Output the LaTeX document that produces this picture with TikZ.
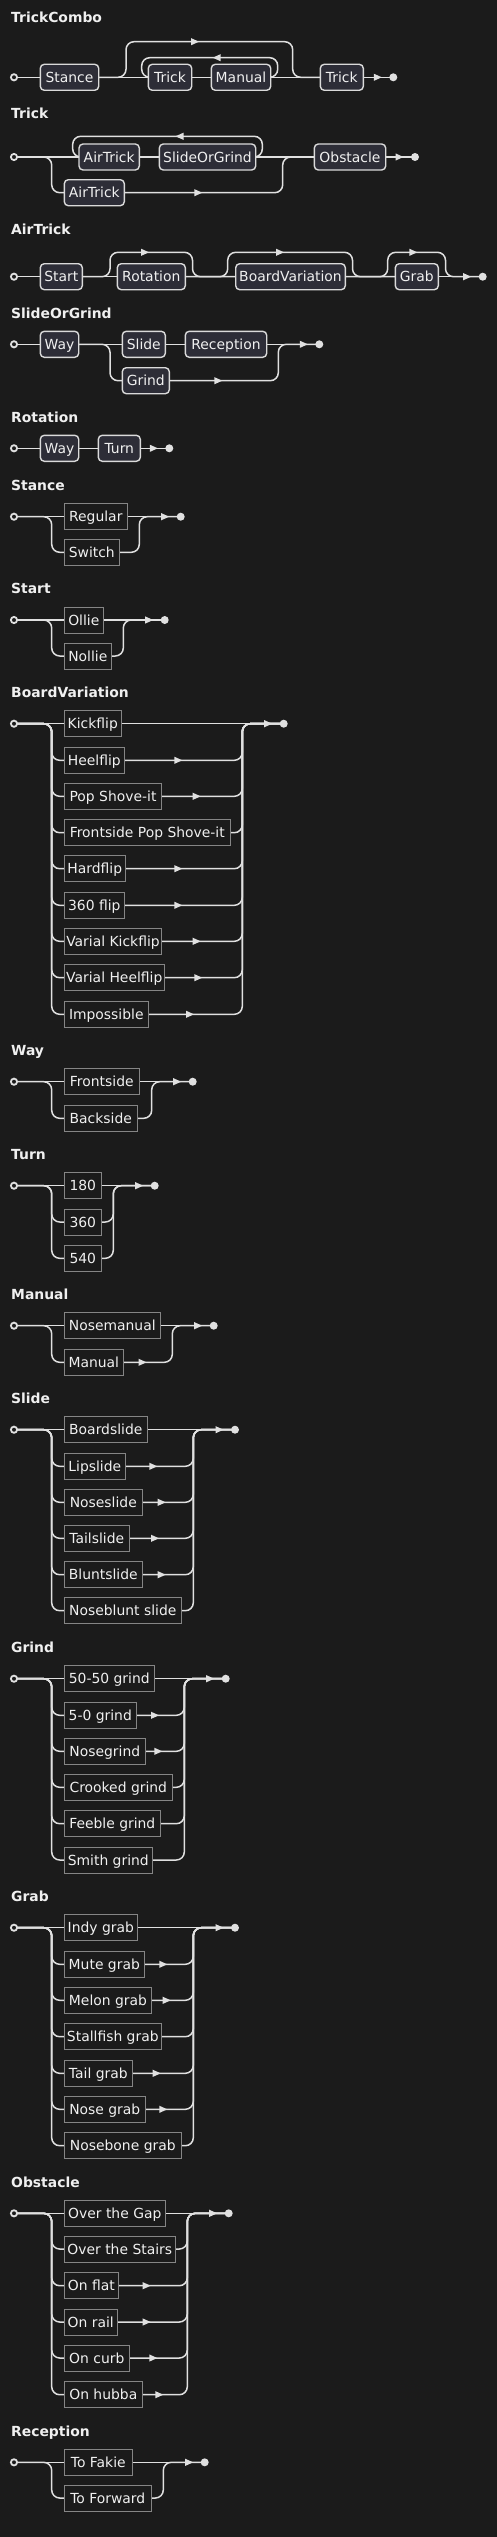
\documentclass[tikz,border=0pt]{standalone}
\usepackage{fontspec}
\setmainfont{DejaVu Sans}
\usetikzlibrary{calc}
\definecolor{bgc}{HTML}{1B1B1B}
\definecolor{linec}{HTML}{E0E0E0}
\definecolor{ntfill}{HTML}{2D2D37}
\definecolor{ntdraw}{HTML}{DADADA}
\definecolor{tdraw}{HTML}{858585}
\definecolor{txtc}{HTML}{F0F0F0}
\pgfdeclarelayer{backlayer}
\pgfdeclarelayer{linelayer}
\pgfsetlayers{backlayer,linelayer,main}
\newcommand\NT[5]{\node[ntbox, minimum width={#3pt-#2pt}] (#1) at ({(#2+#3)/2},#4) {#5};}
\newcommand\TM[5]{\node[tbox, minimum width={#3pt-#2pt}] (#1) at ({(#2+#3)/2},#4) {#5};}
\newcommand\branch[6]{\draw[rr] (#1.center) -- (51.7,#4) -- (51.7,#5) -- (#2.center) -- (#6,#5) -- (#6,#4) -- (#3.center);}
\tikzset{
 x=1pt, y=-1pt,
 rr/.style={draw=linec, line width=1.5pt, rounded corners=8pt},
 boxfont/.style={font=\fontsize{13.9}{16}\selectfont, text height=10.1pt, text depth=0pt},
 ntbox/.style={boxfont, draw=ntdraw, fill=ntfill, line width=1.4pt, rounded corners=4pt, minimum height=26pt, inner xsep=2pt, inner ysep=0pt, text=txtc},
 tbox/.style={boxfont, draw=tdraw, fill=bgc, line width=1pt, minimum height=26pt, inner xsep=2pt, inner ysep=0pt, text=txtc},
 ttl/.style={anchor=base west, inner sep=0pt, text=txtc, font=\bfseries\fontsize{13.9}{16}\selectfont},
 startc/.style={circle, draw=linec, fill=bgc, line width=1.8pt, minimum size=6.2pt, inner sep=0pt},
 endc/.style={circle, fill=linec, minimum size=8pt, inner sep=0pt},
 arr/.pic={\fill[linec] (-4,-3.6) -- (4,0) -- (-4,3.6) -- cycle;},
}
\begin{document}
\begin{tikzpicture}
\useasboundingbox (0,0) rectangle (497,2537);
\begin{pgfonlayer}{backlayer}
\fill[bgc] (0,0) rectangle (497,2537);
\end{pgfonlayer}

% ---------- TrickCombo
\node[ttl] (t1) at (11,22.7) {TrickCombo};
\node[startc] (s1) at (14,77.3) {};
\NT{a1}{40.3}{98.7}{77.3}{Stance}
\NT{b1}{148.3}{191.7}{77.3}{Trick}
\NT{c1}{211.3}{270.7}{77.3}{Manual}
\NT{d1}{320.3}{363.3}{77.3}{Trick}
\node[endc] (e1) at (393.3,77.3) {};
\begin{pgfonlayer}{linelayer}
\draw[rr] (s1.center) -- (e1.center);
\draw[rr] (a1.center) -- (126,77.3) -- (126,41.7) -- (292.7,41.7) -- (292.7,77.3) -- (d1.center);
\draw[rr] (c1.center) -- (277.7,77.3) -- (277.7,57.7) -- (141.7,57.7) -- (141.7,77.3) -- (b1.center);
\end{pgfonlayer}
\pic at (195,41.7) {arr};
\pic[rotate=180] at (216.7,57.7) {arr};
\pic at (377.8,77.3) {arr};

% ---------- Trick
\node[ttl] (t2) at (11,118.7) {Trick};
\node[startc] (s2) at (14,157) {};
\NT{a2}{79}{139.3}{157}{AirTrick}
\NT{b2}{159.3}{255.7}{157}{SlideOrGrind}
\NT{c2}{64.3}{124.3}{192.7}{AirTrick}
\NT{d2}{314.3}{385.7}{157}{Obstacle}
\node[endc] (e2) at (415,157) {};
\begin{pgfonlayer}{linelayer}
\draw[rr] (s2.center) -- (e2.center);
\draw[rr] (b2.center) -- (262.3,157) -- (262.3,136.3) -- (72.7,136.3) -- (72.7,157) -- (a2.center);
\draw[rr] (s2.center) -- (51.7,157) -- (51.7,192.7) -- (c2.center) -- (282.7,192.7) -- (282.7,157) -- (d2.center);
\end{pgfonlayer}
\pic[rotate=180] at (179.5,136.3) {arr};
\pic at (198.3,192.7) {arr};
\pic at (399.5,157) {arr};

% ---------- AirTrick
\node[ttl] (t3) at (11,234.3) {AirTrick};
\node[startc] (s3) at (14,276.7) {};
\NT{a3}{40.3}{82.3}{276.7}{Start}
\NT{b3}{117.3}{185.3}{276.7}{Rotation}
\NT{c3}{235.7}{345.3}{276.7}{BoardVariation}
\NT{d3}{395.3}{438.3}{276.7}{Grab}
\node[endc] (e3) at (482.7,276.7) {};
\begin{pgfonlayer}{linelayer}
\draw[rr] (s3.center) -- (e3.center);
\draw[rr] (a3.center) -- (110,276.7) -- (110,252.3) -- (192.5,252.3) -- (192.5,276.7) -- (c3.center);
\draw[rr] (b3.center) -- (227.7,276.7) -- (227.7,252.3) -- (352.5,252.3) -- (352.5,276.7) -- (d3.center);
\draw[rr] (c3.center) -- (387.7,276.7) -- (387.7,252.3) -- (445.5,252.3) -- (445.5,276.7) -- (e3.center);
\end{pgfonlayer}
\pic at (145,252.3) {arr};
\pic at (280,252.3) {arr};
\pic at (413.3,252.3) {arr};
\pic at (467.2,276.7) {arr};

% ---------- SlideOrGrind
\node[ttl] (t4) at (11,318.3) {SlideOrGrind};
\node[startc] (s4) at (14,344.3) {};
\NT{a4}{40.3}{78.7}{344.3}{Way}
\NT{b4}{122.3}{165.3}{344.3}{Slide}
\NT{c4}{185.3}{266.7}{344.3}{Reception}
\NT{d4}{122.3}{169.3}{380.7}{Grind}
\node[endc] (e4) at (319.3,344.3) {};
\begin{pgfonlayer}{linelayer}
\draw[rr] (s4.center) -- (e4.center);
\draw[rr] (a4.center) -- (110,344.3) -- (110,380.7) -- (d4.center) -- (278.3,380.7) -- (278.3,344.3) -- (e4.center);
\end{pgfonlayer}
\pic at (218.3,380.7) {arr};
\pic at (303.8,344.3) {arr};

% ---------- Rotation
\node[ttl] (t5) at (11,422.5) {Rotation};
\node[startc] (s5) at (14,448.3) {};
\NT{a5}{40.3}{78.7}{448.3}{Way}
\NT{b5}{98.3}{140.3}{448.3}{Turn}
\node[endc] (e5) at (169.3,448.3) {};
\begin{pgfonlayer}{linelayer}
\draw[rr] (s5.center) -- (e5.center);
\end{pgfonlayer}
\pic at (153.8,448.3) {arr};

% ---------- Stance
\node[ttl] (t6) at (11,490.7) {Stance};
\node[startc] (s6) at (14,516.7) {};
\TM{a6}{64.3}{127.3}{516.7}{Regular}
\TM{b6}{64.3}{119.3}{552.3}{Switch}
\node[endc] (e6) at (180.7,516.7) {};
\begin{pgfonlayer}{linelayer}
\draw[rr] (s6.center) -- (e6.center);
\branch{s6}{b6}{e6}{516.7}{552.3}{139.3}
\end{pgfonlayer}
\pic at (165.2,516.7) {arr};

% ---------- Start
\node[ttl] (t7) at (11,593.3) {Start};
\node[startc] (s7) at (14,620) {};
\TM{a7}{64.3}{103.3}{620}{Ollie}
\TM{b7}{64.3}{111.3}{656}{Nollie}
\node[endc] (e7) at (164.7,620) {};
\begin{pgfonlayer}{linelayer}
\draw[rr] (s7.center) -- (e7.center);
\branch{s7}{b7}{e7}{620}{656}{123.3}
\end{pgfonlayer}
\pic at (149.2,620) {arr};

% ---------- BoardVariation
\node[ttl] (t8) at (11,697.3) {BoardVariation};
\node[startc] (s8) at (14,723.7) {};
\TM{a8}{64.3}{121.3}{723.7}{Kickflip}
\TM{b8}{64.3}{124.3}{760.3}{Heelflip}
\TM{c8}{64.3}{161.7}{796.3}{Pop Shove-it}
\TM{d8}{64.3}{230.3}{832.7}{Frontside Pop Shove-it}
\TM{f8}{64.3}{125.3}{868.7}{Hardflip}
\TM{g8}{64.3}{124.3}{905.3}{360 flip}
\TM{h8}{64.3}{161.7}{941.3}{Varial Kickflip}
\TM{i8}{64.3}{164.3}{977.7}{Varial Heelflip}
\TM{k8}{64.3}{148.3}{1014.3}{Impossible}
\node[endc] (e8) at (283.7,723.7) {};
\begin{pgfonlayer}{linelayer}
\draw[rr] (s8.center) -- (e8.center);
\branch{s8}{b8}{e8}{723.7}{760.3}{242.3}
\branch{s8}{c8}{e8}{723.7}{796.3}{242.3}
\branch{s8}{d8}{e8}{723.7}{832.7}{242.3}
\branch{s8}{f8}{e8}{723.7}{868.7}{242.3}
\branch{s8}{g8}{e8}{723.7}{905.3}{242.3}
\branch{s8}{h8}{e8}{723.7}{941.3}{242.3}
\branch{s8}{i8}{e8}{723.7}{977.7}{242.3}
\branch{s8}{k8}{e8}{723.7}{1014.3}{242.3}
\end{pgfonlayer}
\pic at (178.3,760.3) {arr};
\pic at (196.7,796.3) {arr};
\pic at (178.3,868.7) {arr};
\pic at (178.3,905.3) {arr};
\pic at (196.7,941.3) {arr};
\pic at (198.3,977.7) {arr};
\pic at (190,1014.3) {arr};
\pic at (268.2,723.7) {arr};

% ---------- Way
\node[ttl] (t9) at (11,1055.7) {Way};
\node[startc] (s9) at (14,1081.7) {};
\TM{a9}{64.3}{139.3}{1081.7}{Frontside}
\TM{b9}{64.3}{137.3}{1118.3}{Backside}
\node[endc] (e9) at (192.7,1081.7) {};
\begin{pgfonlayer}{linelayer}
\draw[rr] (s9.center) -- (e9.center);
\branch{s9}{b9}{e9}{1081.7}{1118.3}{151.7}
\end{pgfonlayer}
\pic at (177.2,1081.7) {arr};

% ---------- Turn
\node[ttl] (t10) at (11,1159) {Turn};
\node[startc] (s10) at (14,1185.7) {};
\TM{a10}{64.3}{101.3}{1185.7}{180}
\TM{b10}{64.3}{101.3}{1222}{360}
\TM{c10}{64.3}{101.3}{1258.3}{540}
\node[endc] (e10) at (154.7,1185.7) {};
\begin{pgfonlayer}{linelayer}
\draw[rr] (s10.center) -- (e10.center);
\branch{s10}{b10}{e10}{1185.7}{1222}{113.3}
\branch{s10}{c10}{e10}{1185.7}{1258.3}{113.3}
\end{pgfonlayer}
\pic at (139.2,1185.7) {arr};

% ---------- Manual
\node[ttl] (t11) at (11,1299.3) {Manual};
\node[startc] (s11) at (14,1325.7) {};
\TM{a11}{64.3}{160.3}{1325.7}{Nosemanual}
\TM{b11}{64.3}{123.3}{1362.3}{Manual}
\node[endc] (e11) at (213.7,1325.7) {};
\begin{pgfonlayer}{linelayer}
\draw[rr] (s11.center) -- (e11.center);
\branch{s11}{b11}{e11}{1325.7}{1362.3}{172.3}
\end{pgfonlayer}
\pic at (142.5,1362.3) {arr};
\pic at (198.2,1325.7) {arr};

% ---------- Slide
\node[ttl] (t12) at (11,1403.3) {Slide};
\node[startc] (s12) at (14,1429.7) {};
\TM{a12}{64.3}{147.3}{1429.7}{Boardslide}
\TM{b12}{64.3}{125.3}{1466.3}{Lipslide}
\TM{c12}{64.3}{142.3}{1502.3}{Noseslide}
\TM{d12}{64.3}{129.3}{1538.3}{Tailslide}
\TM{f12}{64.3}{142.3}{1574.7}{Bluntslide}
\TM{g12}{64.3}{181.3}{1610.7}{Noseblunt slide}
\node[endc] (e12) at (235,1429.7) {};
\begin{pgfonlayer}{linelayer}
\draw[rr] (s12.center) -- (e12.center);
\branch{s12}{b12}{e12}{1429.7}{1466.3}{193.3}
\branch{s12}{c12}{e12}{1429.7}{1502.3}{193.3}
\branch{s12}{d12}{e12}{1429.7}{1538.3}{193.3}
\branch{s12}{f12}{e12}{1429.7}{1574.7}{193.3}
\branch{s12}{g12}{e12}{1429.7}{1610.7}{193.3}
\end{pgfonlayer}
\pic at (153.3,1466.3) {arr};
\pic at (161.7,1502.3) {arr};
\pic at (155,1538.3) {arr};
\pic at (161.7,1574.7) {arr};
\pic at (219.5,1429.7) {arr};

% ---------- Grind
\node[ttl] (t13) at (11,1652.3) {Grind};
\node[startc] (s13) at (14,1678.7) {};
\TM{a13}{64.3}{154.3}{1678.7}{50-50 grind}
\TM{b13}{64.3}{136.3}{1715.3}{5-0 grind}
\TM{c13}{64.3}{145.3}{1751.3}{Nosegrind}
\TM{d13}{64.3}{172.3}{1787.3}{Crooked grind}
\TM{f13}{64.3}{160.3}{1823.7}{Feeble grind}
\TM{g13}{64.3}{152.3}{1860}{Smith grind}
\node[endc] (e13) at (225.7,1678.7) {};
\begin{pgfonlayer}{linelayer}
\draw[rr] (s13.center) -- (e13.center);
\branch{s13}{b13}{e13}{1678.7}{1715.3}{184.3}
\branch{s13}{c13}{e13}{1678.7}{1751.3}{184.3}
\branch{s13}{d13}{e13}{1678.7}{1787.3}{184.3}
\branch{s13}{f13}{e13}{1678.7}{1823.7}{184.3}
\branch{s13}{g13}{e13}{1678.7}{1860}{184.3}
\end{pgfonlayer}
\pic at (155,1715.3) {arr};
\pic at (158.3,1751.3) {arr};
\pic at (210.2,1678.7) {arr};

% ---------- Grab
\node[ttl] (t14) at (11,1901.7) {Grab};
\node[startc] (s14) at (14,1927.7) {};
\TM{a14}{64.3}{137.3}{1927.7}{Indy grab}
\TM{b14}{64.3}{144.3}{1964.3}{Mute grab}
\TM{c14}{64.3}{151.7}{2000.3}{Melon grab}
\TM{d14}{64.3}{161.3}{2036.7}{Stallfish grab}
\TM{f14}{64.3}{132.3}{2073.3}{Tail grab}
\TM{g14}{64.3}{145.3}{2109.3}{Nose grab}
\TM{h14}{64.3}{181.3}{2145.7}{Nosebone grab}
\node[endc] (e14) at (235,1927.7) {};
\begin{pgfonlayer}{linelayer}
\draw[rr] (s14.center) -- (e14.center);
\branch{s14}{b14}{e14}{1927.7}{1964.3}{193.3}
\branch{s14}{c14}{e14}{1927.7}{2000.3}{193.3}
\branch{s14}{d14}{e14}{1927.7}{2036.7}{193.3}
\branch{s14}{f14}{e14}{1927.7}{2073.3}{193.3}
\branch{s14}{g14}{e14}{1927.7}{2109.3}{193.3}
\branch{s14}{h14}{e14}{1927.7}{2145.7}{193.3}
\end{pgfonlayer}
\pic at (163.3,1964.3) {arr};
\pic at (166.7,2000.3) {arr};
\pic at (156.7,2073.3) {arr};
\pic at (163.3,2109.3) {arr};
\pic at (219.5,1927.7) {arr};

% ---------- Obstacle
\node[ttl] (t15) at (11,2187.3) {Obstacle};
\node[startc] (s15) at (14,2213.3) {};
\TM{a15}{64.3}{165.3}{2213.3}{Over the Gap}
\TM{b15}{64.3}{175.3}{2249}{Over the Stairs}
\TM{c15}{64.3}{118.3}{2285.7}{On flat}
\TM{d15}{64.3}{117.3}{2322}{On rail}
\TM{f15}{64.3}{129.3}{2358}{On curb}
\TM{g15}{64.3}{142.3}{2394.7}{On hubba}
\node[endc] (e15) at (228.7,2213.3) {};
\begin{pgfonlayer}{linelayer}
\draw[rr] (s15.center) -- (e15.center);
\branch{s15}{b15}{e15}{2213.3}{2249}{187.3}
\branch{s15}{c15}{e15}{2213.3}{2285.7}{187.3}
\branch{s15}{d15}{e15}{2213.3}{2322}{187.3}
\branch{s15}{f15}{e15}{2213.3}{2358}{187.3}
\branch{s15}{g15}{e15}{2213.3}{2394.7}{187.3}
\end{pgfonlayer}
\pic at (146.7,2285.7) {arr};
\pic at (146.7,2322) {arr};
\pic at (153.3,2358) {arr};
\pic at (159.3,2394.7) {arr};
\pic at (213.2,2213.3) {arr};

% ---------- Reception
\node[ttl] (t16) at (11,2436.7) {Reception};
\node[startc] (s16) at (14,2462.3) {};
\TM{a16}{64.3}{132.3}{2462.3}{To Fakie}
\TM{b16}{64.3}{151.3}{2498}{To Forward}
\node[endc] (e16) at (204.7,2462.3) {};
\begin{pgfonlayer}{linelayer}
\draw[rr] (s16.center) -- (e16.center);
\branch{s16}{b16}{e16}{2462.3}{2498}{163.3}
\end{pgfonlayer}
\pic at (189.2,2462.3) {arr};
\end{tikzpicture}
\end{document}
